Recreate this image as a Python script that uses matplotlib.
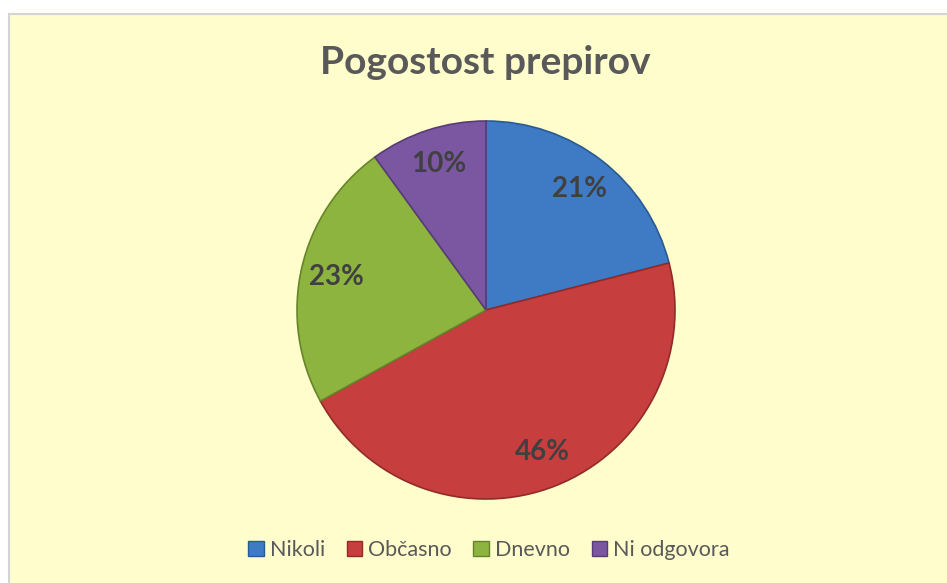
import matplotlib.pyplot as plt
from matplotlib.patches import Rectangle, Patch

categories = ['Nikoli', 'Občasno', 'Dnevno', 'Ni odgovora']
values = [21, 46, 23, 10]
colors = ['#3E7BC4', '#C73E3E', '#8DB43F', '#7A57A0']
edges = ['#2A5A94', '#922A2A', '#66852B', '#573C78']

plt.rcParams['font.family'] = ['Lato', 'DejaVu Sans']

fig = plt.figure(figsize=(9.47, 5.83), dpi=100, facecolor='white')

# panel background with grey border (cut off at right/bottom like the source)
fig.patches.append(Rectangle((9 / 947, -0.1), 1.0, 1 - 14 / 583 + 0.1,
                             transform=fig.transFigure, facecolor='#FFFDCB',
                             edgecolor='#D4D4D4', linewidth=1.5, zorder=-5))

ax = fig.add_axes([0, 0, 1, 1])
ax.set_zorder(2)
ax.patch.set_visible(False)

wedges, texts, autotexts = ax.pie(values, colors=colors, startangle=90, counterclock=False,
                                  center=(486, 273), radius=189, autopct='%d%%',
                                  pctdistance=0.81, frame=True,
                                  wedgeprops=dict(linewidth=1.2),
                                  textprops=dict(fontsize=20, fontweight='bold', color='#404040'))
for w, e in zip(wedges, edges):
    w.set_edgecolor(e)
ax.set_xlim(0, 947)
ax.set_ylim(0, 583)
ax.set_aspect('equal')
ax.axis('off')

fig.text(485 / 947, 1 - 62 / 583, 'Pogostost prepirov', ha='center', va='center',
         fontsize=28, fontweight='bold', color='#595959', zorder=3)

handles = [Patch(facecolor=c, edgecolor=e) for c, e in zip(colors, edges)]
fig.legend(handles, categories, loc='center', bbox_to_anchor=(489 / 947, 1 - 550 / 583), ncol=4,
           frameon=False, fontsize=15.5, handlelength=0.7, handleheight=0.7,
           handletextpad=0.3, columnspacing=1.0, labelcolor='#595959')

fig.savefig('out.png', dpi=100, facecolor='white')
